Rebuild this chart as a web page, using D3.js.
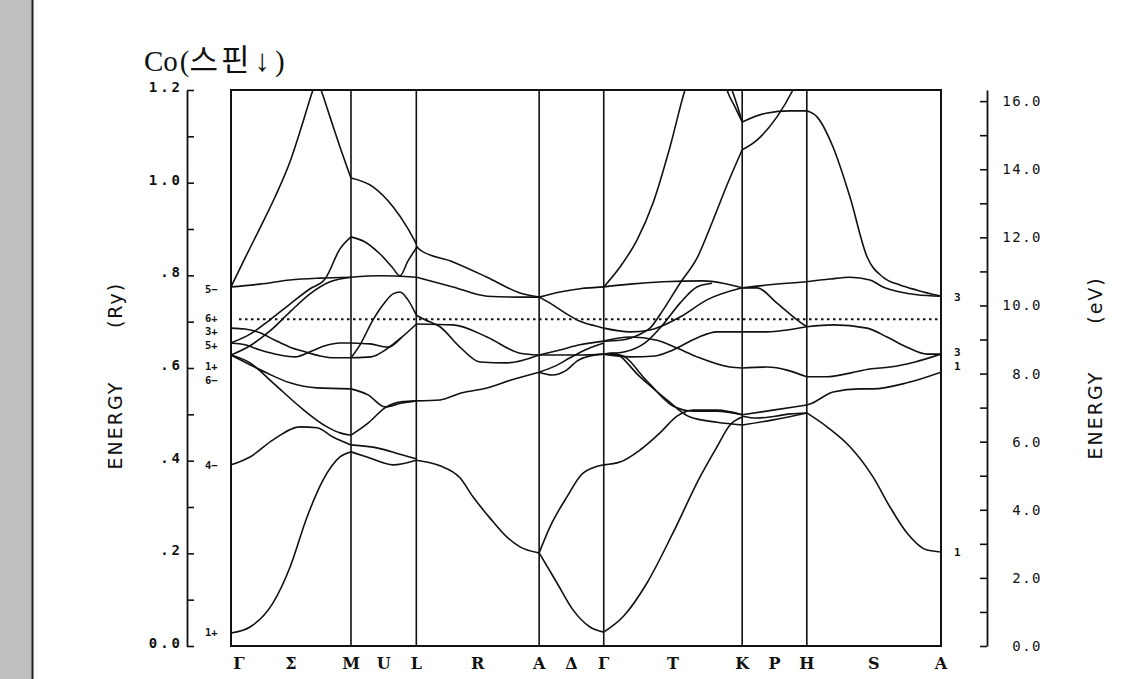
<!DOCTYPE html>
<html>
<head>
<meta charset="utf-8">
<script src="https://d3js.org/d3.v7.min.js"></script>
<style>
  body { margin: 0; background: #fff; }
  .band { fill: none; stroke: #111; stroke-width: 1.6; }
  .tick line { stroke: #111; stroke-width: 1.6; }
  .domain { stroke: #111; stroke-width: 1.8; }
  .num { font-family: "DejaVu Sans Mono", monospace; fill: #111; }
</style>
</head>
<body>
<div id="chart"></div>
<script>
// k path: symmetry points as fraction of total path length
const symK = [0, 0.169, 0.261, 0.434, 0.525, 0.720, 0.811, 1.0];
const symLabels = ['Γ', 'M', 'L', 'A', 'Γ', 'K', 'H', 'A'];
const midLabels = ['Σ', 'U', 'R', 'Δ', 'T', 'P', 'S'];

// energy axes
const ryTickValues = [0, 0.2, 0.4, 0.6, 0.8, 1.0, 1.2];
const ryTickLabels = ['0.0', '.2', '.4', '.6', '.8', '1.0', '1.2'];
const evTickValues = [0, 2, 4, 6, 8, 10, 12, 14, 16];
const evTickLabels = ['0.0', '2.0', '4.0', '6.0', '8.0', '10.0', '12.0', '14.0', '16.0'];
const fermiRy = 0.705;

// state labels at Gamma (left) and A (right)
const gammaStates = ['5−', '6+', '3+', '5+', '1+', '6−', '4−', '1+'];
const gammaStateE = [0.771, 0.708, 0.679, 0.650, 0.604, 0.574, 0.391, 0.030];
const aStates = ['3', '3', '1', '1'];
const aStateE = [0.753, 0.634, 0.604, 0.203];

// bands, one list per panel, points are [k, E(Ry)]
const bandsGM = [
  [[0,0.775],[0.0197,0.837],[0.0408,0.902],[0.062,0.969],[0.0831,1.045],[0.1014,1.131],[0.1155,1.2],[0.1211,1.222],[0.1268,1.2],[0.1394,1.142],[0.1535,1.077],[0.169,1.01]],
  [[0,0.775],[0.0408,0.781],[0.0831,0.79],[0.1254,0.794],[0.169,0.796]],
  [[0,0.654],[0.0268,0.673],[0.0549,0.704],[0.0831,0.738],[0.1113,0.771],[0.1324,0.792],[0.1535,0.857],[0.169,0.883]],
  [[0,0.628],[0.0268,0.648],[0.0549,0.68],[0.0831,0.721],[0.1113,0.76],[0.1394,0.786],[0.169,0.796]],
  [[0,0.686],[0.0197,0.684],[0.0408,0.676],[0.062,0.66],[0.0831,0.645],[0.1042,0.635],[0.1254,0.626],[0.1465,0.622],[0.169,0.622]],
  [[0,0.654],[0.0197,0.65],[0.0408,0.639],[0.069,0.628],[0.0901,0.624],[0.1113,0.635],[0.1324,0.648],[0.1535,0.654],[0.169,0.654]],
  [[0,0.628],[0.0268,0.607],[0.0507,0.589],[0.0831,0.568],[0.1211,0.557],[0.169,0.555]],
  [[0,0.628],[0.0268,0.611],[0.0592,0.568],[0.0972,0.516],[0.1352,0.473],[0.1535,0.46],[0.169,0.455]],
  [[0,0.391],[0.0268,0.408],[0.0592,0.445],[0.0972,0.473],[0.1211,0.471],[0.1437,0.451],[0.169,0.434]],
  [[0,0.028],[0.0268,0.041],[0.0592,0.093],[0.0831,0.17],[0.107,0.278],[0.1296,0.358],[0.1535,0.408],[0.169,0.419]]
];
const bandsML = [
  [[0.169,1.01],[0.2,0.991],[0.2282,0.948],[0.2479,0.904],[0.261,0.868]],
  [[0.169,0.796],[0.2099,0.799],[0.261,0.796]],
  [[0.169,0.883],[0.1887,0.872],[0.2099,0.846],[0.2268,0.818],[0.238,0.799],[0.2493,0.831],[0.261,0.859]],
  [[0.169,0.622],[0.1817,0.65],[0.2,0.704],[0.2169,0.742],[0.2282,0.76],[0.238,0.764],[0.2493,0.747],[0.261,0.714]],
  [[0.169,0.622],[0.1972,0.624],[0.2211,0.643],[0.2394,0.665],[0.2521,0.682],[0.261,0.695]],
  [[0.169,0.654],[0.1958,0.652],[0.2211,0.645],[0.2394,0.665]],
  [[0.169,0.555],[0.193,0.542],[0.2169,0.516],[0.2394,0.524],[0.261,0.529]],
  [[0.169,0.455],[0.193,0.481],[0.2169,0.514],[0.2394,0.527],[0.261,0.529]],
  [[0.169,0.434],[0.207,0.427],[0.238,0.414],[0.261,0.404]],
  [[0.169,0.419],[0.1915,0.408],[0.2282,0.391],[0.261,0.401]]
];
const bandsLA = [
  [[0.261,0.863],[0.2662,0.855],[0.3127,0.829],[0.3606,0.796],[0.407,0.762],[0.434,0.753]],
  [[0.261,0.796],[0.3127,0.775],[0.3606,0.755],[0.407,0.753],[0.434,0.753]],
  [[0.261,0.695],[0.3127,0.693],[0.3606,0.667],[0.407,0.632],[0.434,0.628]],
  [[0.261,0.714],[0.2732,0.704],[0.2944,0.689],[0.3225,0.645],[0.3507,0.613],[0.3887,0.611],[0.434,0.628]],
  [[0.261,0.529],[0.2944,0.531],[0.3239,0.546],[0.3606,0.557],[0.3944,0.574],[0.434,0.591]],
  [[0.261,0.401],[0.2944,0.389],[0.3225,0.363],[0.3408,0.322],[0.3648,0.276],[0.3887,0.235],[0.407,0.214],[0.434,0.201]]
];
const bandsAG = [
  [[0.434,0.753],[0.4634,0.764],[0.4915,0.771],[0.525,0.775]],
  [[0.434,0.753],[0.4493,0.74],[0.4704,0.719],[0.4915,0.701],[0.5127,0.691],[0.525,0.686]],
  [[0.434,0.628],[0.4634,0.639],[0.4915,0.65],[0.525,0.658]],
  [[0.434,0.628],[0.4634,0.628],[0.4915,0.628],[0.525,0.63]],
  [[0.434,0.591],[0.4521,0.585],[0.4732,0.596],[0.4873,0.615],[0.5056,0.626],[0.525,0.63]],
  [[0.434,0.591],[0.4563,0.604],[0.4775,0.622],[0.4986,0.639],[0.525,0.654]],
  [[0.434,0.201],[0.4592,0.136],[0.4817,0.078],[0.5056,0.041],[0.525,0.03]],
  [[0.434,0.201],[0.4493,0.257],[0.4732,0.322],[0.4958,0.373],[0.525,0.391]]
];
const bandsGK = [
  [[0.525,0.775],[0.5479,0.818],[0.5718,0.876],[0.5944,0.956],[0.6183,1.077],[0.6394,1.2],[0.6465,1.232]],
  [[0.525,0.658],[0.5479,0.66],[0.5761,0.673],[0.5901,0.686],[0.6085,0.725],[0.6324,0.783],[0.6563,0.837],[0.6789,0.919],[0.6986,0.995],[0.72,1.071]],
  [[0.525,0.63],[0.5549,0.635],[0.5831,0.654],[0.607,0.691],[0.6324,0.74],[0.6563,0.775],[0.6775,0.783]],
  [[0.525,0.775],[0.562,0.781],[0.6085,0.786],[0.6648,0.788],[0.693,0.783],[0.72,0.773]],
  [[0.525,0.686],[0.562,0.678],[0.5901,0.682],[0.6324,0.71],[0.6704,0.747],[0.72,0.773]],
  [[0.525,0.658],[0.562,0.667],[0.6,0.66],[0.6282,0.643],[0.6563,0.624],[0.7028,0.602],[0.72,0.6]],
  [[0.525,0.63],[0.562,0.624],[0.5972,0.626],[0.6225,0.639],[0.6563,0.665],[0.6845,0.678],[0.72,0.678]],
  [[0.525,0.63],[0.538,0.632],[0.5761,0.581],[0.6141,0.531],[0.6465,0.494],[0.6845,0.483],[0.72,0.477]],
  [[0.525,0.63],[0.5479,0.628],[0.5859,0.572],[0.6225,0.518],[0.6507,0.507],[0.6845,0.507],[0.72,0.499]],
  [[0.525,0.391],[0.5479,0.397],[0.5761,0.423],[0.6042,0.46],[0.6282,0.496],[0.6507,0.509],[0.6845,0.509],[0.72,0.499]],
  [[0.525,0.03],[0.5521,0.063],[0.5859,0.136],[0.6225,0.244],[0.6606,0.365],[0.6845,0.43],[0.7028,0.477],[0.72,0.494]],
  [[0.6944,1.222],[0.6986,1.2],[0.7099,1.163],[0.72,1.131]],
  [[0.7,1.222],[0.7056,1.2],[0.7141,1.161],[0.72,1.131]]
];
const bandsKH = [
  [[0.72,1.131],[0.7535,1.15],[0.7873,1.155],[0.811,1.155]],
  [[0.72,1.071],[0.7408,1.092],[0.769,1.142],[0.7915,1.2],[0.7986,1.222]],
  [[0.72,0.773],[0.7408,0.773],[0.769,0.74],[0.7972,0.704],[0.811,0.689]],
  [[0.72,0.773],[0.7549,0.779],[0.811,0.786]],
  [[0.72,0.678],[0.7549,0.678],[0.7831,0.682],[0.811,0.689]],
  [[0.72,0.6],[0.7549,0.602],[0.811,0.581]],
  [[0.72,0.499],[0.7634,0.509],[0.811,0.52]],
  [[0.72,0.477],[0.7634,0.488],[0.811,0.503]],
  [[0.72,0.496],[0.7408,0.492],[0.7662,0.496],[0.7873,0.501],[0.811,0.503]]
];
const bandsHA = [
  [[0.811,1.155],[0.8254,1.142],[0.8479,1.077],[0.8718,0.969],[0.8958,0.84],[0.9183,0.796],[0.9423,0.779],[0.9662,0.768],[1,0.755]],
  [[0.811,0.786],[0.8437,0.792],[0.8718,0.796],[0.9,0.79],[0.9183,0.775],[0.9423,0.764],[0.9662,0.758],[1,0.755]],
  [[0.811,0.689],[0.8479,0.693],[0.8958,0.686],[0.9239,0.667],[0.9521,0.645],[0.9803,0.63],[1,0.63]],
  [[0.811,0.581],[0.8394,0.581],[0.8718,0.589],[0.9,0.598],[0.9282,0.602],[0.9634,0.613],[1,0.63]],
  [[0.811,0.52],[0.8183,0.524],[0.8479,0.548],[0.8859,0.555],[0.9042,0.555],[0.9521,0.568],[1,0.591]],
  [[0.811,0.503],[0.8394,0.473],[0.8718,0.43],[0.9042,0.365],[0.9282,0.3],[0.9521,0.244],[0.9803,0.207],[1,0.203]]
];
const panels = [bandsGM, bandsML, bandsLA, bandsAG, bandsGK, bandsKH, bandsHA];

const width = 1144, height = 679;
const RY_EV = 13.6057;
const plot = { left: 231, right: 941, top: 90, bottom: 646 };

const x = d3.scaleLinear().domain([0, 1]).range([plot.left, plot.right]);
const y = d3.scaleLinear().domain([0, 1.2]).range([plot.bottom, plot.top]);
const yEv = d3.scaleLinear().domain([0, 1.2 * RY_EV]).range([plot.bottom, plot.top]);

const svg = d3.select('#chart').append('svg')
  .attr('width', width)
  .attr('height', height)
  .style('display', 'block');

svg.append('rect').attr('width', width).attr('height', height).attr('fill', '#fff');

// grey margin strip on the left of the scan
svg.append('rect').attr('x', 0).attr('y', 0).attr('width', 32).attr('height', height).attr('fill', '#bfbfbf');
svg.append('line').attr('x1', 32.5).attr('x2', 32.5).attr('y1', 0).attr('y2', height)
  .attr('stroke', '#222').attr('stroke-width', 2);

// title
const title = svg.append('text')
  .attr('x', 144).attr('y', 71)
  .style('font-family', '"Liberation Serif", "Noto Sans CJK KR", serif')
  .style('font-size', '29px')
  .attr('fill', '#111');
title.append('tspan').text('Co');
title.append('tspan').attr('dx', 2).text('(');
title.append('tspan')
  .style('font-size', '31px')
  .style('letter-spacing', '3px')
  .text('스핀');
title.append('tspan')
  .attr('dx', 2)
  .style('font-size', '31px')
  .style('font-weight', 'bold')
  .text('↓');
title.append('tspan').attr('dx', 5).text(')');

svg.append('defs').append('clipPath').attr('id', 'clip')
  .append('rect')
  .attr('x', plot.left).attr('y', plot.top)
  .attr('width', plot.right - plot.left).attr('height', plot.bottom - plot.top);

// symmetry lines
svg.append('g').selectAll('line')
  .data(symK.slice(1, -1))
  .join('line')
  .attr('x1', d => x(d)).attr('x2', d => x(d))
  .attr('y1', plot.top).attr('y2', plot.bottom)
  .attr('stroke', '#111').attr('stroke-width', 1.6);

// Fermi level
svg.append('line')
  .attr('x1', x(0) + 8).attr('x2', x(1))
  .attr('y1', y(fermiRy)).attr('y2', y(fermiRy))
  .attr('stroke', '#111').attr('stroke-width', 2)
  .attr('stroke-dasharray', '2.5,3.5');

// bands
const line = d3.line()
  .x(d => x(d[0]))
  .y(d => y(d[1]))
  .curve(d3.curveMonotoneX);

const bandG = svg.append('g').attr('clip-path', 'url(#clip)');
panels.forEach(panel => {
  bandG.selectAll(null)
    .data(panel)
    .join('path')
    .attr('class', 'band')
    .attr('d', line);
});

// frame
svg.append('rect')
  .attr('x', plot.left).attr('y', plot.top)
  .attr('width', plot.right - plot.left).attr('height', plot.bottom - plot.top)
  .attr('fill', 'none').attr('stroke', '#111').attr('stroke-width', 2);

// left axis (Ry), ticks point inward
svg.append('g')
  .attr('transform', 'translate(187,0)')
  .call(d3.axisRight(y).tickValues(d3.range(0, 12.5, 1).map(d => d / 10)).tickSize(7).tickSizeOuter(0).tickFormat(''));

svg.append('g').selectAll('text')
  .data(ryTickValues)
  .join('text')
  .attr('class', 'num')
  .attr('x', 183)
  .attr('y', d => y(d) + 2)
  .attr('text-anchor', 'end')
  .style('font-size', '14px')
  .style('font-weight', 'bold')
  .style('letter-spacing', '3px')
  .text((d, i) => ryTickLabels[i]);

// right axis (eV)
svg.append('g')
  .attr('transform', 'translate(987,0)')
  .call(d3.axisLeft(yEv).tickValues(d3.range(0, 17, 1)).tickSize(7).tickSizeOuter(0).tickFormat(''));

svg.append('g').selectAll('text')
  .data(evTickValues)
  .join('text')
  .attr('class', 'num')
  .attr('x', 1042)
  .attr('y', d => yEv(d) + 5)
  .attr('text-anchor', 'end')
  .style('font-size', '14px')
  .style('letter-spacing', '1.5px')
  .text((d, i) => evTickLabels[i]);

// axis titles
function vTitle(cx, cy, txt) {
  svg.append('text')
    .attr('transform', `translate(${cx},${cy}) rotate(-90)`)
    .attr('text-anchor', 'middle')
    .style('font-family', '"DejaVu Sans", sans-serif')
    .style('font-size', '19px')
    .style('letter-spacing', '2px')
    .attr('fill', '#111')
    .text(txt);
}
vTitle(122, 425, 'ENERGY');
vTitle(122, 305, '(Ry)');
vTitle(1102, 415, 'ENERGY');
vTitle(1102, 300, '(eV)');

// state labels
svg.append('g').selectAll('text')
  .data(gammaStates)
  .join('text')
  .attr('class', 'num')
  .attr('x', 205)
  .attr('y', (d, i) => y(gammaStateE[i]) + 4)
  .style('font-size', '10.5px')
  .style('font-weight', 'bold')
  .text(d => d);

svg.append('g').selectAll('text')
  .data(aStates)
  .join('text')
  .attr('class', 'num')
  .attr('x', 954)
  .attr('y', (d, i) => y(aStateE[i]) + 4)
  .style('font-size', '11px')
  .style('font-weight', 'bold')
  .text(d => d);

// k-point labels
const labelStyle = sel => sel
  .attr('text-anchor', 'middle')
  .style('font-family', '"DejaVu Serif", serif')
  .style('font-weight', 'bold')
  .style('font-size', '16px')
  .attr('fill', '#111');

svg.append('g').selectAll('text')
  .data(symK)
  .join('text')
  .attr('x', (d, i) => x(d) + (i === 0 ? 8 : 0))
  .attr('y', 669)
  .call(labelStyle)
  .text((d, i) => symLabels[i]);

svg.append('g').selectAll('text')
  .data(d3.pairs(symK))
  .join('text')
  .attr('x', d => x((d[0] + d[1]) / 2))
  .attr('y', 669)
  .call(labelStyle)
  .text((d, i) => midLabels[i]);
</script>
</body>
</html>
